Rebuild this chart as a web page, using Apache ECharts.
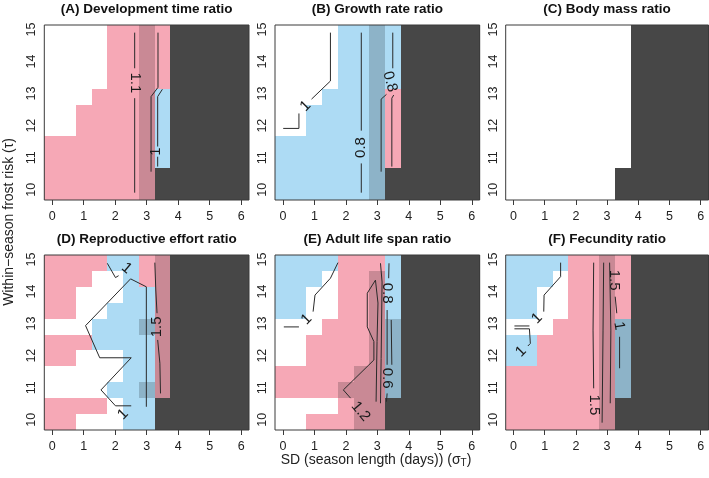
<!DOCTYPE html>
<html><head><meta charset="utf-8">
<script src="https://cdn.jsdelivr.net/npm/echarts@6/dist/echarts.min.js"></script>
<style>html,body{margin:0;padding:0;background:#fff}#c{width:709px;height:478px}</style>
</head><body><div id="c"></div>
<script>
// ---------- DATA ----------
const sdValues = [0,0.5,1,1.5,2,2.5,3,3.5,4,4.5,5,5.5,6];          // columns
const frostValues = [15,14.5,14,13.5,13,12.5,12,11.5,11,10.5,10];   // rows, top to bottom
const xTicks = [0,1,2,3,4,5,6];
const yTicks = [10,11,12,13,14,15];
const titles = ['(A) Development time ratio','(B) Growth rate ratio','(C) Body mass ratio',
                '(D) Reproductive effort ratio','(E) Adult life span ratio','(F) Fecundity ratio'];
const xTitle = 'SD (season length (days)) (σ{sub|T})';
const yTitle = 'Within\u2212season frost risk (τ)';

// cell classes: w = ratio ~1, p = ratio > 1, b = ratio < 1, d = not viable
const cellsA = ['wwwwppppddddd','wwwwppppddddd','wwwwppppddddd','wwwwppppddddd','wwwppppbddddd',
  'wwpppppbddddd','wwpppppbddddd','pppppppbddddd','pppppppbddddd','pppppppdddddd','pppppppdddddd'];
const cellsB = ['wwwwbbbbddddd','wwwwbbbbddddd','wwwwbbbbddddd','wwwwbbbbddddd','wwwbbbbpddddd',
  'wwbbbbbpddddd','wwbbbbbpddddd','bbbbbbbpddddd','bbbbbbbpddddd','bbbbbbbdddddd','bbbbbbbdddddd'];
const cellsC = ['wwwwwwwwddddd','wwwwwwwwddddd','wwwwwwwwddddd','wwwwwwwwddddd','wwwwwwwwddddd',
  'wwwwwwwwddddd','wwwwwwwwddddd','wwwwwwwwddddd','wwwwwwwwddddd','wwwwwwwdddddd','wwwwwwwdddddd'];
const cellsD = ['ppppbbppddddd','pppwwbppddddd','ppwwwbbpddddd','ppwwbbbpddddd','wwwbbbbpddddd',
  'pppbbbbpddddd','ppwwwbbpddddd','wwwwwbbpddddd','wwwwbbbpddddd','ppppwbbdddddd','ppwwwbbdddddd'];
const cellsE = ['bbbbpppbddddd','bbbwpppbddddd','bbwwpppbddddd','bbwwpppbddddd','wwwppppbddddd',
  'wwpppppbddddd','wwpppppbddddd','pppppppbddddd','pppppppbddddd','wwwwpppdddddd','wwpppppdddddd'];
const cellsF = ['bbbbppppddddd','bbbwppppddddd','bbwwppppddddd','bbwwppppddddd','wwwppppbddddd',
  'bbpppppbddddd','bbpppppbddddd','pppppppbddddd','pppppppbddddd','pppppppdddddd','pppppppdddddd'];

// shaded (highlighted) cells
const shadeA = Array(11).fill('......1......');
const shadeB = Array(11).fill('......1......');
const shadeC = Array(11).fill('.............');
const shadeD = ['.......1.....','.......1.....','.......1.....','.......1.....','......11.....',
  '.......1.....','.......1.....','.......1.....','......11.....','.............','.............'];
const shadeE = ['.............','......1......','......1......','......1......','......11.....',
  '......11.....','......11.....','.....111.....','....1111.....','.....11......','.....11......'];
const shadeF = ['......1......','......1......','......1......','......1......','......11.....',
  '......11.....','......11.....','......11.....','......11.....','......1......','......1......'];

// contour lines [sd, frost]
const contoursA = [
  [[2.62,15.01],[2.62,13.89]], [[2.62,12.95],[2.62,9.98]],
  [[3.36,15.01],[3.36,13.29],[3.14,13.0],[3.14,10.64]],
  [[3.50,13.23],[3.35,13.0],[3.35,11.43]], [[3.35,11.11],[3.35,10.80]]];
const contoursB = [
  [[1.51,15.01],[1.51,13.49],[0.91,12.92]], [[0.51,12.47],[0.51,12.0],[0.01,12.0]],
  [[2.49,15.01],[2.49,11.93]], [[2.49,10.90],[2.49,9.98]],
  [[3.49,15.01],[3.49,13.89]], [[3.29,13.07],[3.12,12.92],[3.12,10.64]],
  [[3.52,13.05],[3.46,12.95],[3.46,10.80]]];
const contoursC = [];
const contoursD = [
  [[1.75,14.99],[2.01,14.54],[2.11,14.60]],
  [[2.49,14.50],[1.06,13.03],[1.51,12.02],[2.51,12.02],[1.55,11.01],[2.01,10.51],[2.51,10.51]],
  [[2.49,14.50],[2.99,14.25],[2.99,10.48]],
  [[3.26,15.01],[3.29,14.15],[3.33,13.42]], [[3.35,12.58],[3.42,11.85],[3.44,10.90]]];
const contoursE = [
  [[1.75,15.01],[1.51,14.52],[1.02,13.99],[0.96,13.47]], [[0.03,12.99],[0.51,12.99]],
  [[2.94,14.46],[2.68,14.05],[2.68,12.99],[2.89,12.53],[2.89,11.95],[1.92,11.01],[2.15,10.75]],
  [[2.94,14.46],[3.02,13.74],[2.99,12.53],[2.96,10.64]],
  [[3.10,14.99],[3.15,14.4],[3.12,12.0],[3.10,10.59]],
  [[3.37,14.99],[3.36,14.52]], [[3.31,13.52],[3.31,11.80]],
  [[3.44,13.21],[3.46,11.80]], [[3.31,10.90],[3.29,10.64]]];
const contoursF = [
  [[1.51,15.01],[1.51,14.57],[0.98,13.99],[0.97,13.47]], [[0.03,13.02],[0.51,13.02]],
  [[0.03,12.93],[0.51,12.93],[0.54,12.47],[0.46,12.39]],
  [[2.57,15.01],[2.55,12.89],[2.57,11.06]], [[2.89,15.01],[2.87,12.89],[2.84,9.98]],
  [[3.08,15.01],[3.12,12.89],[3.10,10.59]], [[3.26,13.94],[3.31,13.42]], [[3.40,12.68],[3.40,11.69]]];

// contour labels [sd, frost, text]
const labelsA = [[2.62,13.43,'1.1'],[3.30,11.27,'1']];
const labelsB = [[0.72,12.70,'1'],[2.49,11.40,'0.8'],[3.40,13.47,'0.8']];
const labelsC = [];
const labelsD = [[2.36,14.83,'1'],[2.25,10.24,'1'],[3.33,12.99,'1.5']];
const labelsE = [[0.75,13.23,'1'],[2.47,10.33,'1.2'],[3.31,14.05,'0.8'],[3.31,11.38,'0.6']];
const labelsF = [[0.75,13.26,'1'],[0.24,12.21,'1'],[3.23,14.46,'1.5'],[2.57,10.54,'1.5'],[3.38,13.02,'1']];

// ---------- STYLE / LAYOUT ----------
const labelAngles = [[-90,90],[45,90,-75],[],[-40,45,90],[45,-50,-90,-90],[45,45,-90,-90,-80]];
const FONT = '"Liberation Sans", Arial, Helvetica, sans-serif';
const colors = {w:'#FFFFFF', p:'#F6A8B6', b:'#ADDBF4', d:'#474747'};
const codes = ['w','p','b','d'];
const lefts = [44.3, 275, 505.7], widths = [204.7, 204.7, 202.8], tops = [25, 255], H = 175;

const panels = [
  [cellsA, shadeA, contoursA, labelsA], [cellsB, shadeB, contoursB, labelsB], [cellsC, shadeC, contoursC, labelsC],
  [cellsD, shadeD, contoursD, labelsD], [cellsE, shadeE, contoursE, labelsE], [cellsF, shadeF, contoursF, labelsF]];

function cellData(rows){
  const out = [];
  rows.forEach((s, r) => { for (let c = 0; c < s.length; c++) out.push([sdValues[c], frostValues[r], codes.indexOf(s[c])]); });
  return out;
}
function shadeRuns(rows){
  const out = [];
  for (let c = 0; c < sdValues.length; c++) {
    let start = -1;
    for (let r = 0; r <= rows.length; r++) {
      const on = r < rows.length && rows[r][c] === '1';
      if (on && start < 0) start = r;
      if (!on && start >= 0) { out.push([sdValues[c], frostValues[start], frostValues[r-1]]); start = -1; }
    }
  }
  return out;
}
function snapRect(p1, p2){
  const x1 = Math.round(p1[0]), y1 = Math.round(p1[1]), x2 = Math.round(p2[0]), y2 = Math.round(p2[1]);
  return {x: x1, y: y1, width: x2 - x1, height: y2 - y1};
}

const grid = [], xAxis = [], yAxis = [], series = [], graphic = [];
panels.forEach((pn, i) => {
  const col = i % 3, row = Math.floor(i / 3);
  grid.push({left: lefts[col], top: tops[row], width: widths[col], height: H,
             show: true, borderColor: '#3a3a3a', borderWidth: 1, backgroundColor: 'transparent', z: 10});
  xAxis.push({type: 'value', gridIndex: i, min: -0.25, max: 6.25,
    axisLine: {show: false}, splitLine: {show: false},
    axisTick: {show: true, length: 5, customValues: xTicks, lineStyle: {color: '#3a3a3a'}},
    axisLabel: {customValues: xTicks, fontSize: 12.5, color: '#222', margin: 10, fontFamily: FONT}});
  yAxis.push({type: 'value', gridIndex: i, min: 9.68, max: 15.14,
    axisLine: {show: false}, splitLine: {show: false},
    axisTick: {show: true, length: 5, customValues: yTicks, lineStyle: {color: '#3a3a3a'}},
    axisLabel: {customValues: yTicks, rotate: 90, fontSize: 12.5, color: '#222', margin: 6, fontFamily: FONT}});
  yAxis.push({type: 'value', gridIndex: i, min: 9.75, max: 15.25, show: false});
  const yIdx = 2 * i + 1;

  series.push({type: 'custom', xAxisIndex: i, yAxisIndex: yIdx, silent: true, z: 1, clip: true,
    encode: {x: 0, y: 1}, data: cellData(pn[0]),
    renderItem: (params, api) => {
      const x = api.value(0), y = api.value(1), c = colors[codes[api.value(2)]];
      const p1 = api.coord([x - 0.25, y + 0.25]), p2 = api.coord([x + 0.25, y - 0.25]);
      return {type: 'rect', shape: snapRect(p1, p2), style: {fill: c}};
    }});
  series.push({type: 'custom', xAxisIndex: i, yAxisIndex: yIdx, silent: true, z: 2, clip: true,
    encode: {x: 0, y: 1}, data: shadeRuns(pn[1]),
    renderItem: (params, api) => {
      const x = api.value(0), yt = api.value(1), yb = api.value(2);
      const p1 = api.coord([x - 0.25, yt + 0.25]), p2 = api.coord([x + 0.25, yb - 0.25]);
      return {type: 'rect', shape: snapRect(p1, p2), style: {fill: 'rgba(0,0,0,0.18)'}};
    }});
  pn[2].forEach(path => series.push({type: 'line', xAxisIndex: i, yAxisIndex: yIdx, data: path,
    showSymbol: false, symbol: 'none', silent: true, z: 3, lineStyle: {color: '#2a2a2a', width: 1}}));
  const labs = pn[3], angs = labelAngles[i];
  if (labs.length) series.push({type: 'custom', xAxisIndex: i, yAxisIndex: yIdx, silent: true, z: 4,
    encode: {x: 0, y: 1}, data: labs.map(l => [l[0], l[1]]),
    renderItem: (params, api) => {
      const p = api.coord([api.value(0), api.value(1)]);
      return {type: 'text', x: p[0], y: p[1], rotation: angs[params.dataIndex] * Math.PI / 180,
        style: {text: labs[params.dataIndex][2], fill: '#1a1a1a', font: '15px ' + FONT,
                align: 'center', verticalAlign: 'middle', textAlign: 'center', textVerticalAlign: 'middle'}};
    }});
  graphic.push({type: 'text', x: lefts[col] + widths[col] / 2, y: tops[row] - 16,
    style: {text: titles[i], font: 'bold 13.5px ' + FONT, fill: '#111',
            align: 'center', verticalAlign: 'middle', textAlign: 'center', textVerticalAlign: 'middle'}});
});
graphic.push({type: 'text', x: 376, y: 460,
  style: {text: xTitle, font: '14px ' + FONT, fill: '#222', align: 'center', verticalAlign: 'middle',
          textAlign: 'center', textVerticalAlign: 'middle',
          rich: {sub: {fontSize: 10, verticalAlign: 'bottom', padding: [6, 0, 0, 0], fontFamily: FONT, fill: '#222'}}}});
graphic.push({type: 'text', x: 9, y: 222, rotation: Math.PI / 2,
  style: {text: yTitle, font: '14px ' + FONT, fill: '#222', align: 'center', verticalAlign: 'middle',
          textAlign: 'center', textVerticalAlign: 'middle'}});

const chart = echarts.init(document.getElementById('c'), null, {renderer: 'canvas'});
chart.setOption({animation: false, backgroundColor: '#ffffff', grid, xAxis, yAxis, series, graphic});
</script></body></html>
